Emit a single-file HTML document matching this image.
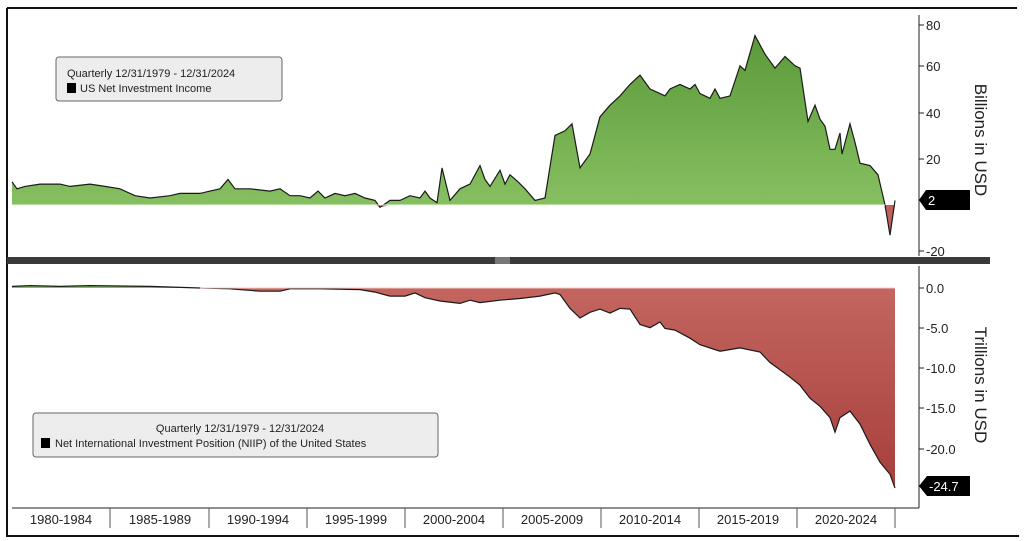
<!DOCTYPE html>
<html><head><meta charset="utf-8"><style>
html,body{margin:0;padding:0;background:#fff;}
svg{display:block;font-family:"Liberation Sans Narrow","Liberation Sans",sans-serif;}
</style></head><body>
<svg width="1024" height="541" viewBox="0 0 1024 541" xmlns="http://www.w3.org/2000/svg">
<defs>
<linearGradient id="g" x1="0" y1="0" x2="0" y2="1"><stop offset="0" stop-color="#5b9a3a"/><stop offset="1" stop-color="#8ec668"/></linearGradient>
<linearGradient id="r" x1="0" y1="0" x2="0" y2="1"><stop offset="0" stop-color="#c4655f"/><stop offset="1" stop-color="#a63f3c"/></linearGradient>
<clipPath id="ab"><rect x="0" y="0" width="1024" height="205"/></clipPath>
<clipPath id="be"><rect x="0" y="205" width="1024" height="100"/></clipPath>
<clipPath id="ab2"><rect x="0" y="270" width="1024" height="18"/></clipPath>
<clipPath id="be2"><rect x="0" y="288" width="1024" height="250"/></clipPath>
</defs>
<rect x="0" y="0" width="1024" height="541" fill="#fff"/>
<!-- border -->
<path d="M7 8 H1017 M7 8 V536 H1019" stroke="#111" stroke-width="2" fill="none"/>
<!-- top series -->
<g id="top">
<polygon clip-path="url(#ab)" fill="url(#g)" points="12,205 12,181.8 17,188.8 25,186.4 40,184.1 60,184.1 70,186.4 90,184.1 105,186.4 120,188.8 135,195.7 150,198 170,195.7 180,193.4 200,193.4 210,191.1 220,188.8 228,179.5 235,188.8 250,188.8 270,191.1 280,188.8 290,195.7 300,195.7 310,198 318,191.1 325,198 335,193.4 345,195.7 355,193.4 365,198 375,200.4 380,207.3 390,200.4 400,200.4 410,195.7 420,198 425,191.1 430,198 437,202.7 442,167.9 450,200.4 460,188.8 470,184.1 480,165.6 485,179.5 490,186.4 500,170.2 505,184.1 510,174.8 518,181.8 525,188.8 535,200.4 545,198 555,135.4 565,130.8 572,123.8 580,167.9 590,154 600,116.8 610,105.2 620,95.9 630,84.4 640,75.1 650,89 660,93.6 665,95.9 670,89 680,84.4 690,89 695,84.4 700,93.6 710,98.3 715,89 720,98.3 730,95.9 740,65.8 745,70.4 755,35.6 765,54.2 775,68.1 785,56.5 795,65.8 800,68.1 808,121.5 815,105.2 820,119.2 825,126.1 830,149.3 835,149.3 840,133.1 842,154 850,123.8 855,142.4 860,163.2 870,165.6 878,174.8 885,205 890,235.2 895,200.4 895,205"/>
<polygon clip-path="url(#be)" fill="#c0605a" points="12,205 375,205 380,207.3 390,205 885,205 890,235.2 895,205"/>
<polyline fill="none" stroke="#1a1a1a" stroke-width="1.2" points="12,181.8 17,188.8 25,186.4 40,184.1 60,184.1 70,186.4 90,184.1 105,186.4 120,188.8 135,195.7 150,198 170,195.7 180,193.4 200,193.4 210,191.1 220,188.8 228,179.5 235,188.8 250,188.8 270,191.1 280,188.8 290,195.7 300,195.7 310,198 318,191.1 325,198 335,193.4 345,195.7 355,193.4 365,198 375,200.4 380,207.3 390,200.4 400,200.4 410,195.7 420,198 425,191.1 430,198 437,202.7 442,167.9 450,200.4 460,188.8 470,184.1 480,165.6 485,179.5 490,186.4 500,170.2 505,184.1 510,174.8 518,181.8 525,188.8 535,200.4 545,198 555,135.4 565,130.8 572,123.8 580,167.9 590,154 600,116.8 610,105.2 620,95.9 630,84.4 640,75.1 650,89 660,93.6 665,95.9 670,89 680,84.4 690,89 695,84.4 700,93.6 710,98.3 715,89 720,98.3 730,95.9 740,65.8 745,70.4 755,35.6 765,54.2 775,68.1 785,56.5 795,65.8 800,68.1 808,121.5 815,105.2 820,119.2 825,126.1 830,149.3 835,149.3 840,133.1 842,154 850,123.8 855,142.4 860,163.2 870,165.6 878,174.8 885,205 890,235.2 895,200.4"/>
<line x1="12" y1="205" x2="885" y2="205" stroke="#e8f4e0" stroke-width="1"/>
</g>
<!-- bottom series -->
<g>
<polygon clip-path="url(#ab2)" fill="#7fbf5a" points="12,288 12,286.4 30,285.6 60,286.4 90,285.6 150,286.4 200,288"/>
<polygon clip-path="url(#be2)" fill="url(#r)" points="200,288 230,288.8 260,291.2 280,291.2 290,288.8 320,288.8 360,289.6 375,292.1 390,296.1 405,296.1 415,292.9 425,297.7 440,301 460,303.4 470,300.2 480,302.6 500,300.2 520,298.5 540,296.1 555,292.9 560,294.5 570,308.3 580,318 590,312.3 600,309.1 610,313.1 620,308.3 630,309.1 640,324.5 650,327.7 660,322 665,328.5 675,330.1 690,338.2 700,344.7 720,351.2 740,347.9 760,352 770,362.5 780,369.8 790,377.1 800,385.2 810,398.2 820,406.3 830,417.6 835,432.2 840,417.6 850,411.1 860,424.1 870,444.3 880,462.2 890,474.3 895,488.1 895,288"/>
<polyline fill="none" stroke="#1a1a1a" stroke-width="1.2" points="12,286.4 30,285.6 60,286.4 90,285.6 150,286.4 200,288 230,288.8 260,291.2 280,291.2 290,288.8 320,288.8 360,289.6 375,292.1 390,296.1 405,296.1 415,292.9 425,297.7 440,301 460,303.4 470,300.2 480,302.6 500,300.2 520,298.5 540,296.1 555,292.9 560,294.5 570,308.3 580,318 590,312.3 600,309.1 610,313.1 620,308.3 630,309.1 640,324.5 650,327.7 660,322 665,328.5 675,330.1 690,338.2 700,344.7 720,351.2 740,347.9 760,352 770,362.5 780,369.8 790,377.1 800,385.2 810,398.2 820,406.3 830,417.6 835,432.2 840,417.6 850,411.1 860,424.1 870,444.3 880,462.2 890,474.3 895,488.1"/>
<line x1="200" y1="288" x2="895" y2="288" stroke="#f2c8c4" stroke-width="1"/>
</g>
<!-- separator -->
<rect x="7" y="257" width="983" height="7" fill="#3a3a3a"/>
<rect x="495" y="257" width="15" height="7" fill="#777"/>
<!-- right axes -->
<line x1="919" y1="15" x2="919" y2="256" stroke="#222" stroke-width="1"/>
<line x1="919" y1="266" x2="919" y2="508" stroke="#222" stroke-width="1"/>
<g stroke="#222" stroke-width="1">
<line x1="919" y1="25" x2="924" y2="25"/><line x1="919" y1="66" x2="924" y2="66"/><line x1="919" y1="113" x2="924" y2="113"/><line x1="919" y1="159" x2="924" y2="159"/><line x1="919" y1="251" x2="924" y2="251"/>
<line x1="919" y1="288" x2="924" y2="288"/><line x1="919" y1="328" x2="924" y2="328"/><line x1="919" y1="368" x2="924" y2="368"/><line x1="919" y1="408" x2="924" y2="408"/><line x1="919" y1="449" x2="924" y2="449"/>
</g>
<g font-size="13" fill="#222">
<text x="926" y="30">80</text><text x="926" y="71">60</text><text x="926" y="118">40</text><text x="926" y="164">20</text><text x="926" y="256">-20</text>
<text x="926" y="293">0.0</text><text x="926" y="333">-5.0</text><text x="926" y="373">-10.0</text><text x="926" y="413">-15.0</text><text x="926" y="454">-20.0</text>
</g>
<polygon points="919,200 926,190 970,190 970,210 926,210" fill="#000"/>
<text x="928" y="205" font-size="13" fill="#fff">2</text>
<polygon points="919,486 927,476 970,476 970,496 927,496" fill="#000"/>
<text x="929" y="491" font-size="13" fill="#fff">-24.7</text>
<text transform="translate(975,140) rotate(90)" font-size="17" fill="#222" text-anchor="middle" font-family="Liberation Sans,sans-serif">Billions in USD</text>
<text transform="translate(975,385) rotate(90)" font-size="17" fill="#222" text-anchor="middle" font-family="Liberation Sans,sans-serif">Trillions in USD</text>
<!-- bottom x axis -->
<line x1="12" y1="508" x2="919" y2="508" stroke="#222" stroke-width="1"/>
<g stroke="#555" stroke-width="1">
<line x1="110" y1="508" x2="110" y2="528"/><line x1="209" y1="508" x2="209" y2="528"/><line x1="307" y1="508" x2="307" y2="528"/><line x1="405" y1="508" x2="405" y2="528"/><line x1="503" y1="508" x2="503" y2="528"/><line x1="601" y1="508" x2="601" y2="528"/><line x1="699" y1="508" x2="699" y2="528"/><line x1="797" y1="508" x2="797" y2="528"/><line x1="895" y1="508" x2="895" y2="528"/>
</g>
<g font-size="13" fill="#222" text-anchor="middle">
<text x="61" y="524">1980-1984</text><text x="160" y="524">1985-1989</text><text x="258" y="524">1990-1994</text><text x="356" y="524">1995-1999</text><text x="454" y="524">2000-2004</text><text x="552" y="524">2005-2009</text><text x="650" y="524">2010-2014</text><text x="748" y="524">2015-2019</text><text x="846" y="524">2020-2024</text>
</g>
<!-- legends -->
<rect x="56" y="57" width="226" height="44" rx="3" fill="#ededed" stroke="#666" stroke-width="1"/>
<text x="67" y="77" font-size="11" fill="#222">Quarterly 12/31/1979 - 12/31/2024</text>
<rect x="67" y="83" width="9" height="10" fill="#000"/>
<text x="80" y="92" font-size="11" fill="#222">US Net Investment Income</text>
<rect x="33" y="413" width="405" height="44" rx="3" fill="#ededed" stroke="#666" stroke-width="1"/>
<text x="240" y="432" font-size="11" fill="#222" text-anchor="middle">Quarterly 12/31/1979 - 12/31/2024</text>
<rect x="41" y="438" width="9" height="10" fill="#000"/>
<text x="55" y="447" font-size="11" fill="#222">Net International Investment Position (NIIP) of the United States</text>
</svg>
</body></html>
